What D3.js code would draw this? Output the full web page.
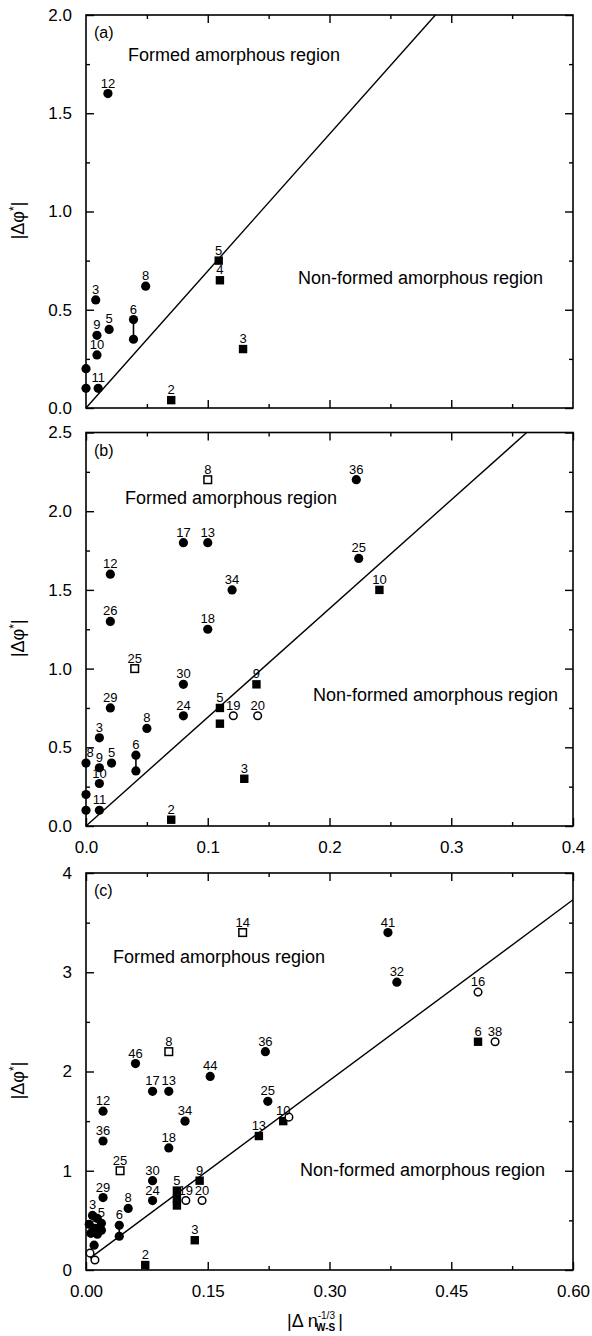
<!DOCTYPE html>
<html><head><meta charset="utf-8">
<script src="https://cdn.jsdelivr.net/npm/d3@7/dist/d3.min.js"></script>
<style>html,body{margin:0;padding:0;background:#fff}</style>
</head><body>
<script>
// ---------- DATA ----------
// panel (a)
const aCircles = [[0.018,1.6,"12"],[0.008,0.55,"3"],[0.049,0.62,"8"],[0.039,0.45,"6"],[0.039,0.35,""],
  [0.019,0.40,"5"],[0.009,0.37,"9"],[0.009,0.27,"10"],[0.010,0.10,"11"],[0.0,0.20,""],[0.0,0.10,""]];
const aSquares = [[0.109,0.75,"5"],[0.110,0.65,"4"],[0.129,0.30,"3"],[0.070,0.04,"2"]];
const aOpenSquares = [];
const aOpenCircles = [];
const aLinks = [[0.039,0.45,0.35]];
const aBoundary = [[0,0],[0.287,2.0]];

// panel (b)
const bCircles = [[0.222,2.2,"36"],[0.080,1.8,"17"],[0.100,1.8,"13"],[0.224,1.7,"25"],[0.020,1.6,"12"],
  [0.120,1.5,"34"],[0.020,1.3,"26"],[0.100,1.25,"18"],[0.080,0.90,"30"],[0.020,0.75,"29"],[0.080,0.70,"24"],
  [0.050,0.62,"8"],[0.011,0.56,"3"],[0.041,0.45,"6"],[0.041,0.35,""],[0.021,0.40,"5"],[0.0,0.40,"8"],
  [0.011,0.37,"9"],[0.011,0.27,"10"],[0.011,0.10,"11"],[0.0,0.20,""],[0.0,0.10,""]];
const bSquares = [[0.241,1.5,"10"],[0.140,0.90,"9"],[0.110,0.75,"5"],[0.110,0.65,""],[0.130,0.30,"3"],[0.070,0.04,"2"]];
const bOpenSquares = [[0.100,2.2,"8"],[0.040,1.0,"25"]];
const bOpenCircles = [[0.121,0.70,"19"],[0.141,0.70,"20"]];
const bLinks = [[0.041,0.45,0.35]];
const bBoundary = [[0,0],[0.362,2.5]];

// panel (c)
const cCircles = [[0.372,3.4,"41"],[0.383,2.9,"32"],[0.221,2.2,"36"],[0.061,2.08,"46"],[0.153,1.95,"44"],
  [0.082,1.8,"17"],[0.102,1.8,"13"],[0.224,1.7,"25"],[0.021,1.6,"12"],[0.122,1.5,"34"],[0.021,1.3,"36"],
  [0.102,1.23,"18"],[0.082,0.90,"30"],[0.021,0.73,"29"],[0.082,0.70,"24"],[0.052,0.62,"8"],
  [0.041,0.45,"6"],[0.041,0.34,""],[0.008,0.55,"3"],[0.014,0.52,""],[0.019,0.47,"5"],[0.004,0.46,""],
  [0.011,0.42,"9"],[0.019,0.40,""],[0.006,0.37,""],[0.014,0.36,""],[0.010,0.25,""]];
const cSquares = [[0.483,2.3,"6"],[0.243,1.5,"10"],[0.213,1.35,"13"],[0.140,0.90,"9"],[0.112,0.80,"5"],
  [0.112,0.72,""],[0.112,0.65,""],[0.134,0.30,"3"],[0.073,0.05,"2"]];
const cOpenSquares = [[0.193,3.4,"14"],[0.102,2.2,"8"],[0.042,1.0,"25"]];
const cOpenCircles = [[0.483,2.8,"16"],[0.504,2.3,"38"],[0.250,1.54,""],[0.123,0.70,"19"],[0.143,0.70,"20"],
  [0.011,0.10,""],[0.005,0.17,""]];
const cLinks = [[0.041,0.45,0.34]];
const cBoundary = [[0.005,0.12],[0.6,3.73]];

// ticks
const aXMajor = [0.1,0.2,0.3], aXMinor = [0.05,0.15,0.25,0.35];
const aYMajor = [0,0.5,1.0,1.5,2.0], aYMinor = [0.25,0.75,1.25,1.75];
const aYLabels = ["0.0","0.5","1.0","1.5","2.0"];
const bXMajor = [0,0.1,0.2,0.3,0.4], bXMinor = [0.05,0.15,0.25,0.35];
const bXLabels = ["0.0","0.1","0.2","0.3","0.4"];
const bYMajor = [0,0.5,1.0,1.5,2.0,2.5], bYMinor = [0.25,0.75,1.25,1.75,2.25];
const bYLabels = ["0.0","0.5","1.0","1.5","2.0","2.5"];
const cXMajor = [0,0.15,0.30,0.45,0.60], cXMinor = [0.075,0.225,0.375,0.525];
const cXLabels = ["0.00","0.15","0.30","0.45","0.60"];
const cYMajor = [0,1,2,3,4], cYMinor = [0.5,1.5,2.5,3.5];
const cYLabels = ["0","1","2","3","4"];

const regionTexts = ["Formed amorphous region","Non-formed amorphous region"];

// ---------- DRAW ----------
const W = 592, H = 1336;
const FONT = "'Liberation Sans', Arial, Helvetica, sans-serif";
const svg = d3.select("body").append("svg").attr("width",W).attr("height",H)
  .style("font-family",FONT);
svg.append("rect").attr("width",W).attr("height",H).attr("fill","#fff");

const L = 86, R = 573;

const panels = [
  {tag:"(a)", top:15, bottom:408, xDom:[0,0.4], yDom:[0,2.0],
   xMajor:aXMajor, xMinor:aXMinor, xLabels:null, yMajor:aYMajor, yMinor:aYMinor, yLabels:aYLabels,
   circles:aCircles, squares:aSquares, oSquares:aOpenSquares, oCircles:aOpenCircles, links:aLinks, boundary:aBoundary,
   formed:[128,61], nonformed:[298,284]},
  {tag:"(b)", top:432.5, bottom:826, xDom:[0,0.4], yDom:[0,2.5],
   xMajor:bXMajor, xMinor:bXMinor, xLabels:bXLabels, yMajor:bYMajor, yMinor:bYMinor, yLabels:bYLabels,
   circles:bCircles, squares:bSquares, oSquares:bOpenSquares, oCircles:bOpenCircles, links:bLinks, boundary:bBoundary,
   formed:[125,504], nonformed:[313,701]},
  {tag:"(c)", top:873, bottom:1270, xDom:[0,0.6], yDom:[0,4],
   xMajor:cXMajor, xMinor:cXMinor, xLabels:cXLabels, yMajor:cYMajor, yMinor:cYMinor, yLabels:cYLabels,
   circles:cCircles, squares:cSquares, oSquares:cOpenSquares, oCircles:cOpenCircles, links:cLinks, boundary:cBoundary,
   formed:[113,963], nonformed:[300,1176]}
];

function styleAxis(g){
  g.select(".domain").remove();
  g.selectAll(".tick line").attr("stroke","#000").attr("stroke-width",1.4);
  g.selectAll(".tick text").attr("fill","#000").style("font-family",FONT).style("font-size","17px");
}

panels.forEach(p => {
  const x = d3.scaleLinear().domain(p.xDom).range([L,R]);
  const y = d3.scaleLinear().domain(p.yDom).range([p.bottom,p.top]);
  const g = svg.append("g");

  // axes (inward ticks)
  const fmtX = p.xLabels ? (d,i)=>p.xLabels[i] : ()=>"";
  g.append("g").attr("transform",`translate(0,${p.bottom})`)
    .call(d3.axisBottom(x).tickValues(p.xMajor).tickSizeInner(-8).tickSizeOuter(0).tickPadding(15).tickFormat(fmtX))
    .call(styleAxis);
  g.append("g").attr("transform",`translate(0,${p.bottom})`)
    .call(d3.axisBottom(x).tickValues(p.xMinor).tickSizeInner(-4).tickSizeOuter(0).tickFormat(""))
    .call(styleAxis);
  g.append("g").attr("transform",`translate(0,${p.top})`)
    .call(d3.axisTop(x).tickValues(p.xMajor).tickSizeInner(-8).tickSizeOuter(0).tickFormat(""))
    .call(styleAxis);
  g.append("g").attr("transform",`translate(0,${p.top})`)
    .call(d3.axisTop(x).tickValues(p.xMinor).tickSizeInner(-4).tickSizeOuter(0).tickFormat(""))
    .call(styleAxis);
  g.append("g").attr("transform",`translate(${L},0)`)
    .call(d3.axisLeft(y).tickValues(p.yMajor).tickSizeInner(-8).tickSizeOuter(0).tickPadding(14).tickFormat((d,i)=>p.yLabels[i]))
    .call(styleAxis);
  g.append("g").attr("transform",`translate(${L},0)`)
    .call(d3.axisLeft(y).tickValues(p.yMinor).tickSizeInner(-4).tickSizeOuter(0).tickFormat(""))
    .call(styleAxis);
  g.append("g").attr("transform",`translate(${R},0)`)
    .call(d3.axisRight(y).tickValues(p.yMajor).tickSizeInner(-8).tickSizeOuter(0).tickFormat(""))
    .call(styleAxis);
  g.append("g").attr("transform",`translate(${R},0)`)
    .call(d3.axisRight(y).tickValues(p.yMinor).tickSizeInner(-4).tickSizeOuter(0).tickFormat(""))
    .call(styleAxis);

  // frame
  g.append("rect").attr("x",L).attr("y",p.top).attr("width",R-L).attr("height",p.bottom-p.top)
    .attr("fill","none").attr("stroke","#000").attr("stroke-width",1.6);

  // boundary line
  g.append("path").datum(p.boundary)
    .attr("d", d3.line().x(d=>x(d[0])).y(d=>y(d[1])))
    .attr("fill","none").attr("stroke","#000").attr("stroke-width",1.4);

  // links (vertical connectors)
  g.selectAll(".link").data(p.links).join("line")
    .attr("x1",d=>x(d[0])).attr("x2",d=>x(d[0])).attr("y1",d=>y(d[1])).attr("y2",d=>y(d[2]))
    .attr("stroke","#000").attr("stroke-width",1.6);

  // markers
  g.selectAll(".fc").data(p.circles).join("circle")
    .attr("cx",d=>x(d[0])).attr("cy",d=>y(d[1])).attr("r",4.6).attr("fill","#000");
  g.selectAll(".fs").data(p.squares).join("rect")
    .attr("x",d=>x(d[0])-4.2).attr("y",d=>y(d[1])-4.2).attr("width",8.4).attr("height",8.4).attr("fill","#000");
  g.selectAll(".os").data(p.oSquares).join("rect")
    .attr("x",d=>x(d[0])-3.8).attr("y",d=>y(d[1])-3.8).attr("width",7.6).attr("height",7.6)
    .attr("fill","#fff").attr("stroke","#000").attr("stroke-width",1.5);
  g.selectAll(".oc").data(p.oCircles).join("circle")
    .attr("cx",d=>x(d[0])).attr("cy",d=>y(d[1])).attr("r",3.8)
    .attr("fill","#fff").attr("stroke","#000").attr("stroke-width",1.5);

  // point labels
  const all = [].concat(p.circles,p.squares,p.oSquares,p.oCircles).filter(d=>d[2]!=="");
  g.selectAll(".pl").data(all).join("text")
    .attr("x",d=>x(d[0]) + (d[0]===0 ? 4 : 0)).attr("y",d=>y(d[1])-6)
    .attr("text-anchor","middle").style("font-size","13px").attr("fill","#000")
    .text(d=>d[2]);

  // panel tag
  g.append("text").attr("x",L+8).attr("y",p.top+23).style("font-size","16px").attr("fill","#000").text(p.tag);

  // region texts
  g.append("text").attr("x",p.formed[0]).attr("y",p.formed[1]).style("font-size","18px").attr("fill","#000")
    .text(regionTexts[0]);
  g.append("text").attr("x",p.nonformed[0]).attr("y",p.nonformed[1]).style("font-size","18px").attr("fill","#000")
    .text(regionTexts[1]);

  // y title
  const cy = (p.top+p.bottom)/2 + 9;
  const yt = g.append("text").attr("transform",`translate(24,${cy}) rotate(-90)`)
    .attr("text-anchor","middle").style("font-size","18px").attr("fill","#000");
  yt.append("tspan").text("|Δφ");
  yt.append("tspan").attr("dy",-6).style("font-size","12px").text("*");
  yt.append("tspan").attr("dy",6).text("|");
});

// x title (bottom)
const xt = svg.append("text").attr("x",287).attr("y",1327).style("font-size","18px").attr("fill","#000");
xt.append("tspan").text("|Δ n");
xt.append("tspan").attr("dy",-8).style("font-size","10px").text("-1/3");
xt.append("tspan").attr("dx",-19).attr("dy",12).style("font-size","10px").style("font-weight","bold").text("W-S");
xt.append("tspan").attr("dy",-4).attr("dx",3).text("|");
</script>
</body></html>
